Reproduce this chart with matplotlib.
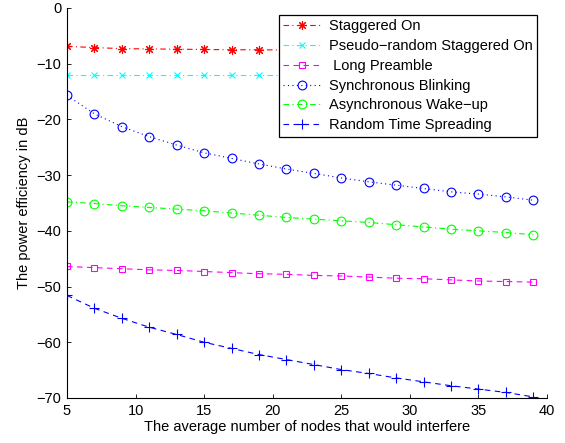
import matplotlib
matplotlib.use("Agg")
import matplotlib.pyplot as plt
import numpy as np

plt.rcParams['font.family'] = ['Liberation Sans', 'DejaVu Sans']
plt.rcParams['axes.unicode_minus'] = True

x = [5, 7, 9, 11, 13, 15, 17, 19, 21, 23, 25, 27, 29, 31, 33, 35, 37, 39]
staggered_on = [-6.9, -7.1, -7.3, -7.35, -7.4, -7.45, -7.5, -7.5, -7.55, -7.6, -7.6, -7.65, -7.7, -7.7, -7.75, -7.75, -7.8, -7.8]
pseudo_random = [-12.0, -12.0, -12.0, -12.0, -12.0, -12.0, -12.0, -12.0, -12.0, -12.0, -12.0, -12.0, -12.0, -12.0, -12.0, -12.0, -12.0, -12.0]
long_preamble = [-46.4, -46.6, -46.8, -47.0, -47.1, -47.3, -47.5, -47.7, -47.8, -48.0, -48.1, -48.3, -48.5, -48.6, -48.8, -49.0, -49.1, -49.2]
sync_blinking = [-15.7, -19.0, -21.3, -23.1, -24.6, -26.0, -27.0, -28.0, -28.9, -29.7, -30.5, -31.2, -31.8, -32.4, -33.0, -33.4, -33.9, -34.5]
async_wakeup = [-34.8, -35.1, -35.5, -35.8, -36.1, -36.4, -36.8, -37.2, -37.6, -37.9, -38.2, -38.5, -38.9, -39.3, -39.7, -40.0, -40.3, -40.7]
random_time = [-51.6, -53.9, -55.7, -57.3, -58.6, -60.0, -61.1, -62.2, -63.1, -64.0, -64.9, -65.6, -66.4, -67.1, -67.8, -68.4, -69.0, -69.8]

labels = ['Staggered On', 'Pseudo\u2212random Staggered On', ' Long Preamble',
          'Synchronous Blinking', 'Asynchronous Wake\u2212up', 'Random Time Spreading']
xticks = [5, 10, 15, 20, 25, 30, 35, 40]
yticks = [0, -10, -20, -30, -40, -50, -60, -70]

fig = plt.figure(figsize=(5.65, 4.43), dpi=100)
ax = fig.add_axes([0.1186, 0.1016, 0.968 - 0.1186, 0.982 - 0.1016])

lw = 0.8
mew = 0.8
dashdot = (0, (5, 3, 1, 3))
dashed = (0, (5, 4))
ax.plot(x, staggered_on, color='#ff0000', linestyle=dashdot, marker=(8, 2, 0), markersize=6.5, mew=mew, lw=lw, label=labels[0])
ax.plot(x, pseudo_random, color='#00ffff', linestyle=dashdot, marker='x', markersize=5, mew=mew, lw=lw, label=labels[1])
ax.plot(x, long_preamble, color='#ff00ff', linestyle=dashed, marker='s', markersize=5, mfc='none', mew=mew, lw=lw, label=labels[2])
ax.plot(x, sync_blinking, color='#0000ff', linestyle=(0, (1, 3)), marker='o', markersize=6.3, mfc='none', mew=mew, lw=lw, label=labels[3])
ax.plot(x, async_wakeup, color='#00ff00', linestyle=dashdot, marker='o', markersize=6.3, mfc='none', mew=mew, lw=lw, label=labels[4])
ax.plot(x, random_time, color='#0000ff', linestyle=dashed, marker='+', markersize=7, mew=mew, lw=lw, label=labels[5])

fs = 10.5
ax.set_xlim(5, 40)
ax.set_ylim(-70, 0)
ax.set_xticks(xticks)
ax.set_yticks(yticks)
ax.tick_params(direction='in', labelsize=fs, length=3, width=0.6, pad=4)
ax.spines['top'].set_visible(False)
ax.spines['right'].set_visible(False)
for s in ('left', 'bottom'):
    ax.spines[s].set_linewidth(0.8)
ax.set_xlabel('The average number of nodes that would interfere', fontsize=fs, labelpad=2)
ax.set_ylabel('The power efficiency in dB', fontsize=fs, labelpad=4)

leg = ax.legend(loc='upper right', bbox_to_anchor=(0.985, 0.99), fontsize=fs, frameon=True,
                fancybox=False, edgecolor='black', framealpha=1.0, handlelength=2.5, handletextpad=0.6,
                labelspacing=0.4, borderpad=0.3, borderaxespad=0.2)
leg.get_frame().set_linewidth(0.9)

fig.savefig('out.png', dpi=100)
